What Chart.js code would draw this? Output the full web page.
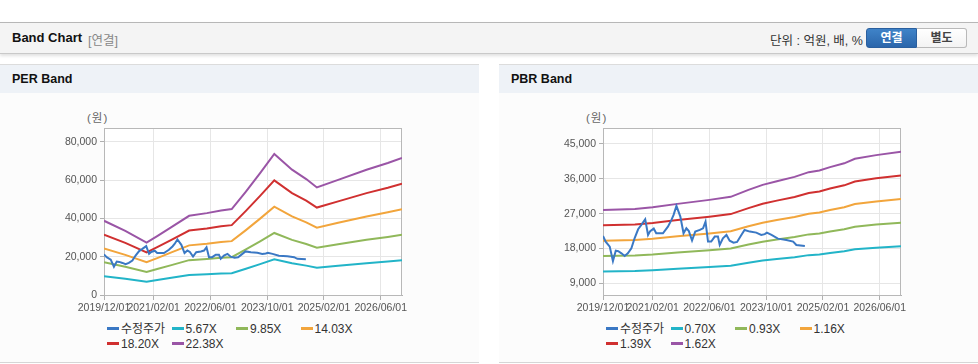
<!DOCTYPE html>
<html><head><meta charset="utf-8">
<script src="https://cdn.jsdelivr.net/npm/chart.js@4.4.1/dist/chart.umd.min.js"></script>
<style>
html,body{margin:0;padding:0;background:#fff;width:978px;height:364px;overflow:hidden;font-family:"Liberation Sans","Noto Sans CJK KR",sans-serif;}
.abs{position:absolute;}
#hdr{left:0;top:22px;width:978px;height:30px;background:#f4f4f4;border-top:1px solid #b7b7b7;border-bottom:1px solid #c9c9c9;box-shadow:0 2px 3px rgba(0,0,0,0.12);}
#hdrTitle{left:12px;top:30px;font-size:13px;font-weight:bold;color:#111;}
#hdrSub{left:88px;top:30px;font-size:12.5px;color:#888;}
#unit{left:770px;top:30px;font-size:12.5px;color:#333;}
.btn{top:28px;height:18px;width:49px;font-size:12px;font-weight:bold;text-align:center;line-height:18px;}
#b1{left:866px;background:linear-gradient(#3f83c8,#2b66ab);border:1px solid #2a5f9e;color:#fff;border-radius:3px 0 0 3px;}
#b2{left:917px;background:linear-gradient(#fff,#f3f3f3);border:1px solid #b9b9b9;border-left:none;color:#444;border-radius:0 3px 3px 0;}
.panel{top:64px;width:479px;height:297px;background:#fcfcfc;border-top:1px solid #dcdcdc;border-bottom:1px solid #d6d6d6;}
.ptitle{position:absolute;left:0;top:0;width:479px;height:28px;background:#eef2f7;}
.ptitle span{position:absolute;left:12px;top:7px;font-size:12.5px;font-weight:bold;color:#111;}
.unitlbl{font-size:11.5px;color:#666;top:109px;letter-spacing:1px;}
canvas{position:absolute;top:93px;}
.legend{top:322px;display:grid;grid-template-columns:repeat(4,64.5px);grid-auto-rows:14.5px;font-size:12px;color:#333;}
.legend div{white-space:nowrap;line-height:14.5px;}
.legend i{display:inline-block;width:12px;height:3px;margin-right:2px;vertical-align:middle;position:relative;top:-1px;}
</style></head>
<body>
<div id="hdr" class="abs"></div>
<div id="hdrTitle" class="abs">Band Chart</div>
<div id="hdrSub" class="abs">[연결]</div>
<div id="unit" class="abs">단위 : 억원, 배, %</div>
<div id="b1" class="abs btn">연결</div>
<div id="b2" class="abs btn">별도</div>

<div class="abs panel" style="left:0"><div class="ptitle"><span>PER Band</span></div></div>
<div class="abs panel" style="left:499px"><div class="ptitle"><span>PBR Band</span></div></div>
<div class="abs unitlbl" style="left:87px">(원)</div>
<div class="abs unitlbl" style="left:586px">(원)</div>
<canvas id="per" width="479" height="226" style="left:0"></canvas>
<canvas id="pbr" width="479" height="226" style="left:499px"></canvas>
<div id="legPer" class="abs legend" style="left:107px"></div>
<div id="legPbr" class="abs legend" style="left:606px"></div>

<script>
// ---- x axis: months since 2019/12/01 ----
const xTickMonths = [0, 14, 30, 46, 62, 78];
const xTickLabels = ['2019/12/01', '2021/02/01', '2022/06/01', '2023/10/01', '2025/02/01', '2026/06/01'];
const xMax = 84;

// ---- adjusted share price (수정주가) ----
const priceMonths = [0,0.75,1.9,2.8,3.6,4.3,5.2,6.1,7.0,8.0,8.9,9.9,10.8,11.9,12.7,13.3,14.3,15.0,16.9,18.3,19.3,19.9,20.7,21.8,22.7,23.5,24.2,25.1,26.0,27.3,28.2,28.9,29.6,30.5,31.5,32.4,32.9,33.8,34.8,35.7,36.8,37.8,39.0,39.9,41.4,43.2,44.6,45.6,46.2,47.5,49.3,51.7,53.6,54.5,56.9];
const priceValues = [21240,19780,18480,14780,17450,17300,16760,16070,16760,18050,20640,22960,24090,25550,21500,22500,23140,21930,21930,23650,25380,26670,29000,26240,21930,23220,22500,20070,22360,22790,23220,24950,19780,19780,21070,21070,18910,20640,21500,20030,19520,19700,21500,22790,22360,22100,21500,21700,22100,21500,20550,20200,19780,18910,18650];

// ---- PER band ----
const perMonths = [0,6,12,15,19,24,29,33,36,40,44,48,53,57,60,66,74,80,84];
const per567  = [9830,8490,6940,7800,9000,10490,10850,11200,11380,13710,16140,18680,16600,15360,14240,15250,16600,17480,18140];
const per985  = [17080,14740,12060,13560,15620,18220,18840,19450,19760,23810,28030,32440,28830,26670,24730,26490,28830,30370,31510];
const per1403 = [24320,21000,17180,19310,22250,25950,26830,27710,28150,33920,39930,46200,41060,37990,35230,37740,41060,43260,44890];
const per1820 = [31550,27240,22280,25050,28870,33670,34800,35940,36510,43990,51800,59930,53260,49280,45700,48950,53260,56110,58230];
const per2238 = [38800,33500,27400,30800,35500,41400,42800,44200,44900,54100,63700,73700,65500,60600,56200,60200,65500,69000,71600];
const perLabels = ['5.67X','9.85X','14.03X','18.20X','22.38X'];
const perYTicks = [0,20000,40000,60000,80000];
const perYMin = 0, perYMax = 87300;

// ---- PBR band ----
const pbrMonths = [0,9,14,21,30,36,41,45,49,54,58,61,64,68,71,77,84];
const pbr070 = [12082,12194,12380,12756,13201,13538,14315,14877,15288,15767,16290,16480,16852,17275,17781,18191,18563];
const pbr093 = [16052,16201,16448,16947,17539,17987,19020,19766,20312,20949,21644,21896,22390,22953,23624,24170,24663];
const pbr116 = [20019,20206,20513,21136,21874,22432,23721,24652,25332,26127,26993,27308,27924,28626,29463,30144,30759];
const pbr139 = [23990,24213,24582,25328,26212,26881,28426,29541,30356,31308,32347,32724,33462,34303,35307,36122,36860];
const pbr162 = [27960,28220,28650,29520,30550,31330,33130,34430,35380,36490,37700,38140,39000,39980,41150,42100,42960];
const pbrLabels = ['0.70X','0.93X','1.16X','1.39X','1.62X'];
const pbrYTicks = [9000,18000,27000,36000,45000];
const pbrYMin = 6000, pbrYMax = 49100;

const priceLabel = '수정주가';
const colors = ['#3a78c4','#22b4c8','#90b85a','#f2a53c','#d03030','#9a55a6'];

const pts = (xs, ys) => xs.map((x, i) => ({x: x, y: ys[i]}));
const tickFont = {family: '"Liberation Sans Narrow","Liberation Sans",sans-serif', size: 10.5};

const boxPlugin = {
  id: 'box',
  beforeDraw(chart) {
    const a = chart.chartArea, c = chart.ctx;
    c.save(); c.fillStyle = '#ffffff'; c.fillRect(a.left, a.top, a.right - a.left, a.bottom - a.top); c.restore();
  },
  beforeDatasetsDraw(chart) {
    const a = chart.chartArea, c = chart.ctx;
    c.save(); c.strokeStyle = '#b8b8b8'; c.lineWidth = 1;
    c.strokeRect(Math.round(a.left) + 0.5, Math.round(a.top) + 0.5, Math.round(a.right - a.left) - 1, Math.round(a.bottom - a.top));
    c.restore();
  }
};

function makeChart(id, legendId, bandMonths, bands, labels, yTicks, yMin, yMax) {
  const datasets = [{label: priceLabel, data: pts(priceMonths, priceValues), borderColor: colors[0]}];
  bands.forEach((b, i) => datasets.push({label: labels[i], data: pts(bandMonths, b), borderColor: colors[i + 1]}));
  datasets.forEach(d => { d.borderWidth = 2; d.pointRadius = 0; d.fill = false; d.tension = 0; });
  const chart = new Chart(document.getElementById(id), {
    type: 'line',
    data: {datasets},
    plugins: [boxPlugin],
    options: {
      responsive: false, animation: false, devicePixelRatio: 1,
      layout: {padding: {left: 0, top: 35, right: 77, bottom: 2}},
      plugins: {legend: {display: false}, tooltip: {enabled: false}},
      scales: {
        x: {
          type: 'linear', min: 0, max: xMax,
          afterBuildTicks: s => { s.ticks = xTickMonths.map(v => ({value: v})); },
          afterFit: s => { s.height = 22; },
          ticks: {autoSkip: false, maxRotation: 0, padding: 2, color: '#555', font: tickFont,
                  callback: v => xTickLabels[xTickMonths.indexOf(v)]},
          grid: {color: '#e6e6e6', tickColor: '#b0b0b0', tickLength: 5},
          border: {color: '#b0b0b0'}
        },
        y: {
          min: yMin, max: yMax,
          afterBuildTicks: s => { s.ticks = yTicks.map(v => ({value: v})); },
          afterFit: s => { s.width = 104; },
          ticks: {padding: 3, color: '#555', font: tickFont, callback: v => v.toLocaleString('en-US')},
          grid: {color: '#e6e6e6', tickColor: '#b0b0b0', tickLength: 4},
          border: {color: '#b0b0b0'}
        }
      }
    }
  });
  const leg = document.getElementById(legendId);
  chart.data.datasets.forEach(d => {
    const el = document.createElement('div');
    const m = document.createElement('i'); m.style.background = d.borderColor;
    el.appendChild(m); el.appendChild(document.createTextNode(d.label));
    leg.appendChild(el);
  });
  return chart;
}

makeChart('per', 'legPer', perMonths, [per567, per985, per1403, per1820, per2238], perLabels, perYTicks, perYMin, perYMax);
makeChart('pbr', 'legPbr', pbrMonths, [pbr070, pbr093, pbr116, pbr139, pbr162], pbrLabels, pbrYTicks, pbrYMin, pbrYMax);
</script>
</body></html>
